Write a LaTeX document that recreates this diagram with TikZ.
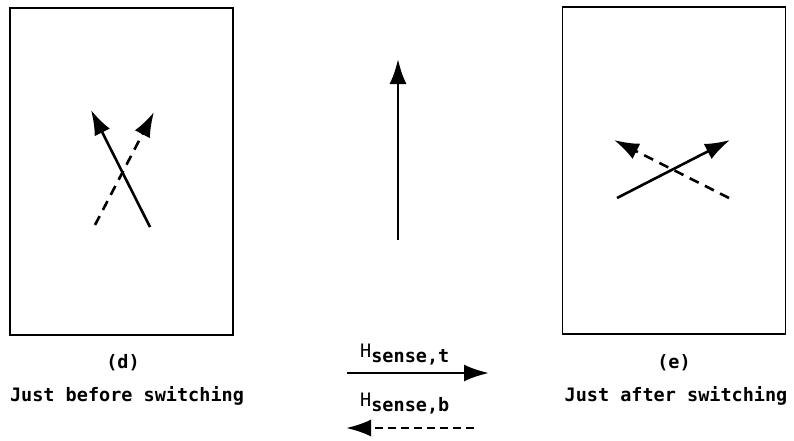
\documentclass[tikz,border=0pt]{standalone}
\usepackage{fontspec}
\setmonofont{DejaVu Sans Mono}
\usetikzlibrary{arrows.meta}
\tikzset{
  panel/.style={draw, line width=1.8pt, minimum width=223pt, minimum height=327pt, inner sep=0pt},
  vec/.style={line width=2.6pt, -{Latex[length=25pt,width=17pt]}},
  dvec/.style={vec, dash pattern=on 10pt off 7pt},
  lbl/.style={font=\ttfamily\bfseries\fontsize{18.5}{22}\selectfont, inner sep=0pt},
}
\begin{document}
\begin{tikzpicture}[x=1pt,y=-1pt]
\useasboundingbox (0,0) rectangle (794,440);
\node[panel] (boxd) at (121.5,171.5) {};
\node[panel] (boxe) at (674,170.5) {};
% panel d
\coordinate (ds1) at (150,227); \coordinate (de1) at (91,110);
\coordinate (ds2) at (95,225);  \coordinate (de2) at (154,112);
\draw[vec] (ds1) -- (de1);
\draw[dvec] (ds2) -- (de2);
% centre
\coordinate (cs) at (398,240); \coordinate (ce) at (398,59);
\draw[vec] (cs) -- (ce);
% panel e
\coordinate (es1) at (617,198); \coordinate (ee1) at (730,140);
\coordinate (es2) at (729,198); \coordinate (ee2) at (614,140);
\draw[vec] (es1) -- (ee1);
\draw[dvec] (es2) -- (ee2);
% labels
\node[lbl] (ld) at (123,363) {(d)};
\node[lbl] (td) at (127,396) {Just before switching};
\node[lbl] (le) at (674,363) {(e)};
\node[lbl] (te) at (676,396) {Just after switching};
% legend
\coordinate (ts) at (347,373); \coordinate (te2) at (489,373);
\draw[vec] (ts) -- (te2);
\coordinate (bs) at (474,428); \coordinate (be) at (346,428);
\draw[vec, dash pattern=on 8pt off 5pt] (bs) -- (be);
\node[lbl, anchor=west] (ht) at (360,355) {\mdseries H\raisebox{-5pt}{\bfseries sense,t}};
\node[lbl, anchor=west] (hb) at (360,404) {\mdseries H\raisebox{-5pt}{\bfseries sense,b}};
\end{tikzpicture}
\end{document}
